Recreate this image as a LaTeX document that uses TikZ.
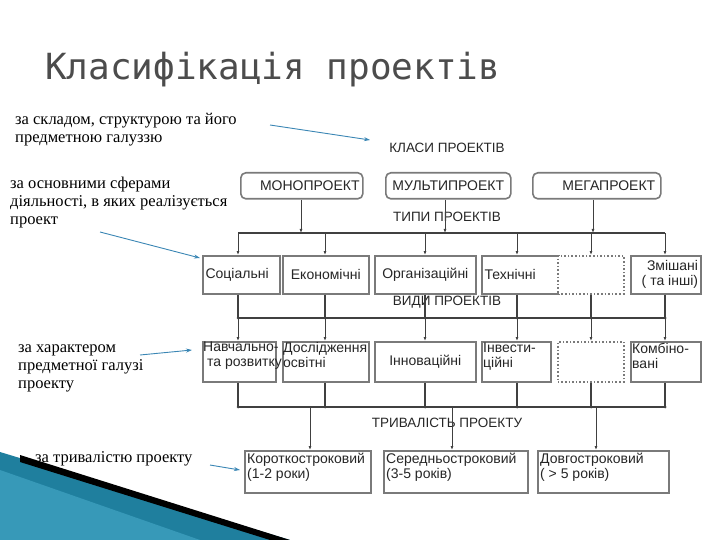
\documentclass[tikz,border=0pt]{standalone}
\usepackage{fontspec}
\setmainfont{Liberation Serif}
\setsansfont{Liberation Sans}
\newfontfamily\titlefont{DejaVu Sans Mono}
\usetikzlibrary{arrows.meta}
\definecolor{teal1}{HTML}{1F7F9E}
\definecolor{teal2}{HTML}{4FB3D3}
\definecolor{arrowblue}{HTML}{3A86B4}
\definecolor{boxgray}{HTML}{7A7A7A}
\begin{document}
\begin{tikzpicture}[x=1pt,y=-1pt,
  box/.style={draw=boxgray,line width=1.6pt,fill=white,anchor=north west,inner sep=3pt},
  rbox/.style={box,rounded corners=5pt},
  lab/.style={font=\sffamily\fontsize{14}{15}\selectfont,align=left,text=black!85},
  hdr/.style={font=\sffamily\fontsize{13.5}{15}\selectfont,text=black!85},
  side/.style={font=\fontsize{16.5}{18}\selectfont,align=left,anchor=north west,inner sep=0pt},
  pt/.style={-{Latex[length=4pt,width=3pt]},line width=1pt,draw=black!75},
  ln/.style={line width=1.2pt,draw=black!75},
  bl/.style={-{Stealth[length=6pt,width=4pt]},draw=arrowblue,line width=0.9pt}]
\useasboundingbox (0,0) rectangle (720,540);
% decoration
\fill[teal1] (0,452) -- (0,540) -- (290,540) -- cycle;
\fill[teal2,opacity=0.5] (0,470) -- (0,540) -- (200,540) -- cycle;
\fill[black] (20,455) -- (290,540) -- (270,540) -- (20,462) -- cycle;
% title
\node[anchor=base west,inner sep=0pt,text=black!70,font=\titlefont\fontsize{36}{40}\selectfont] (title) at (45,80) {Класифікація проектів};
% side texts
\node[side] (s1) at (15,113) {за складом, структурою та його\\предметною галуззю};
\node[side] (s2) at (10,177) {за основними сферами\\діяльності, в яких реалізується\\проект};
\node[side] (s3) at (18,345) {за характером\\предметної галузі\\проекту};
\node[side] (s4) at (35,451) {за тривалістю проекту};
\coordinate (a1) at (370,140); \coordinate (a2) at (200,258);
\coordinate (a3) at (192,350); \coordinate (a4) at (240,470);
\draw[bl] (270,125) -- (a1);
\draw[bl] (100,232) -- (a2);
\draw[bl] (140,355) -- (a3);
\draw[bl] (210,465) -- (a4);
% headings
\node[hdr] (h1) at (447,148) {КЛАСИ ПРОЕКТІВ};
\node[hdr] (h2) at (447,217) {ТИПИ ПРОЕКТІВ};
\node[hdr] (h3) at (447,302) {ВИДИ ПРОЕКТІВ};
\node[hdr] (h4) at (447,423) {ТРИВАЛІСТЬ ПРОЕКТУ};
% row 1
\node[rbox,minimum width=122pt,minimum height=26pt] (mono) at (240,172) {};
\node[lab] at ([xshift=8pt]mono.center) {МОНОПРОЕКТ};
\node[rbox,minimum width=125pt,minimum height=26pt] (multi) at (385,172) {};
\node[lab] at (multi.center) {МУЛЬТИПРОЕКТ};
\node[rbox,minimum width=128pt,minimum height=26pt] (mega) at (532,172) {};
\node[lab] at ([xshift=12pt]mega.center) {МЕГАПРОЕКТ};
% buses
\coordinate (b1l) at (238,233); \coordinate (b1r) at (665,233);
\coordinate (b2l) at (238,318); \coordinate (b2r) at (665,318);
\coordinate (b3l) at (238,407); \coordinate (b3r) at (665,407);
\draw[ln] (b1l) -- (b1r); \draw[ln] (b2l) -- (b2r); \draw[ln] (b3l) -- (b3r);
\draw[pt] (mono.south -| 301,0) -- (301,233);
\draw[pt] (multi.south -| 445,0) -- (445,233);
\draw[pt] (mega.south -| 593,0) -- (593,233);
% row 2
\node[box,minimum width=77pt,minimum height=38pt] (r21) at (202,255) {};
\node[lab,anchor=west] at (r21.west) {Соціальні};
\node[box,minimum width=86pt,minimum height=38pt] (r22) at (282,255) {};
\node[lab] at (r22.center) {Економічні};
\node[box,minimum width=101pt,minimum height=38pt] (r23) at (374,255) {};
\node[lab] at (r23.center) {Організаційні};
\node[box,minimum width=77pt,minimum height=38pt] (r24) at (481,255) {};
\node[lab,anchor=west] at (r24.west) {Технічні};
\node[box,dotted,minimum width=66pt,minimum height=38pt] (r25) at (557,255) {};
\node[box,minimum width=70pt,minimum height=38pt] (r26) at (630,255) {};
\node[lab,align=right,anchor=east] at (r26.east) {Змішані\\( та інші)};
% row 3
\node[box,minimum width=73pt,minimum height=40pt] (r31) at (202,341) {};
\node[box,minimum width=86pt,minimum height=40pt] (r32) at (282,341) {};
\node[box,minimum width=101pt,minimum height=40pt] (r33) at (374,341) {};
\node[lab] at (r33.center) {Інноваційні};
\node[box,minimum width=69pt,minimum height=40pt] (r34) at (481,341) {};
\node[lab,anchor=north west,inner sep=2pt] at (r34.north west) {Інвести-\\ційні};
\node[box,dotted,minimum width=66pt,minimum height=40pt] (r35) at (557,341) {};
\node[box,minimum width=70pt,minimum height=40pt] (r36) at (630,341) {};
\node[lab,anchor=north west,inner sep=2pt] at (r36.north west) {Комбіно-\\вані};
\node[lab,anchor=north west,inner sep=1pt] (t31) at (r31.north west) {Навчально-\\\ та розвитку};
\node[lab,anchor=north west,inner sep=1pt] (t32) at (r32.north west) {Дослідження\\освітні};
% connections
\foreach \x/\a/\b in {238/r21/r31,325/r22/r32,425/r23/r33,517/r24/r34,591/r25/r35,665/r26/r36}{
  \draw[pt] (\x,233) -- (\a.north -| \x,0);
  \draw[ln] (\a.south -| \x,0) -- (\x,318);
  \draw[pt] (\x,318) -- (\b.north -| \x,0);
  \draw[ln] (\b.south -| \x,0) -- (\x,407);
  \fill[black!75] (\x,318) circle (1.5pt);
  \fill[black!75] (\x,407) circle (1.5pt);
}
% row 4
\node[box,minimum width=126pt,minimum height=42pt] (r41) at (244,450) {};
\node[lab,anchor=north west,inner sep=3pt] at (r41.north west) {Короткостроковий\\(1-2 роки)};
\node[box,minimum width=144pt,minimum height=42pt] (r42) at (383,450) {};
\node[lab,anchor=north west,inner sep=3pt] at (r42.north west) {Середньостроковий\\(3-5 років)};
\node[box,minimum width=131pt,minimum height=42pt] (r43) at (537,450) {};
\node[lab,anchor=north west,inner sep=3pt] at (r43.north west) {Довгостроковий\\( > 5 років)};
\draw[pt] (310,407) -- (r41.north -| 310,0);
\draw[pt] (452,407) -- (r42.north -| 452,0);
\draw[pt] (596,407) -- (r43.north -| 596,0);
\end{tikzpicture}
\end{document}
